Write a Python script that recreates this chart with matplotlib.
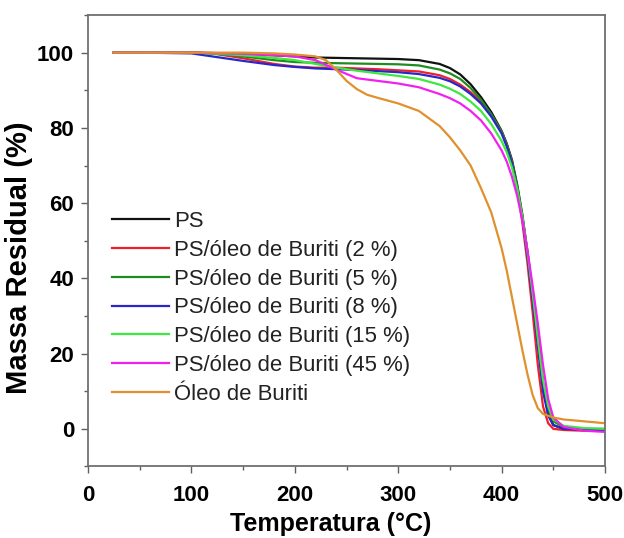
import matplotlib
matplotlib.use("Agg")
import matplotlib.pyplot as plt
from matplotlib.ticker import MultipleLocator

plt.rcParams['font.family'] = ['Liberation Sans', 'DejaVu Sans']

T = [25, 50, 100, 120, 150, 180, 200, 220, 240, 260, 280, 300, 320, 340, 350, 360, 370,
     380, 390, 400, 405, 410, 415, 420, 425, 430, 435, 440, 445, 450, 460, 480, 500]

ps = [100, 100, 100, 99.9, 99.7, 99.3, 99.0, 98.7, 98.6, 98.5, 98.4, 98.3, 98.0, 97.0, 95.9, 94.2, 91.6,
      88.2, 84.2, 79.2, 75.8, 71.5, 65.0, 57.0, 47.0, 36.0, 24.5, 12.0, 4.0, 1.0, 0.0, -0.3, -0.3]
ps2 = [100, 100, 100, 99.8, 98.5, 97.0, 96.3, 96.0, 96.0, 95.8, 95.6, 95.3, 95.0, 94.0, 93.0, 91.5, 89.5,
       87.0, 83.5, 79.0, 75.5, 71.0, 64.0, 55.0, 44.0, 31.0, 17.0, 6.0, 1.5, 0.0, -0.3, -0.5, -0.5]
ps5 = [100, 100, 100, 99.8, 99.0, 98.0, 97.5, 97.3, 97.2, 97.1, 97.0, 96.9, 96.6, 95.5, 94.5, 93.0, 90.6,
       87.5, 83.6, 79.0, 75.5, 71.0, 64.5, 56.5, 47.0, 36.0, 24.0, 12.0, 5.0, 2.0, 0.5, 0.0, 0.0]
ps8 = [100, 100, 99.8, 99.0, 97.8, 96.7, 96.2, 95.8, 95.6, 95.4, 95.1, 94.8, 94.3, 93.3, 92.4, 91.0, 89.0,
       86.5, 83.0, 78.5, 75.0, 70.5, 64.0, 56.0, 46.0, 34.0, 22.0, 10.0, 3.5, 1.0, 0.0, -0.3, -0.3]
ps15 = [100, 100, 100, 99.8, 99.3, 98.6, 98.0, 97.0, 96.0, 95.2, 94.5, 93.8, 93.0, 91.5, 90.4, 89.0, 87.0,
        84.5, 81.0, 76.5, 73.5, 69.5, 64.0, 56.5, 47.0, 36.0, 24.0, 13.0, 6.0, 2.5, 0.8, 0.2, 0.0]
ps45 = [100, 100, 100, 99.9, 99.7, 99.3, 99.0, 98.0, 95.5, 93.2, 92.5, 91.8, 90.8, 89.0, 87.9, 86.5, 84.5,
        82.0, 78.5, 74.0, 71.0, 67.0, 62.0, 55.5, 47.5, 38.0, 28.0, 17.0, 8.0, 3.0, 0.5, -0.5, -0.8]

T_oil = [25, 50, 100, 150, 180, 200, 220, 230, 240, 250, 260, 270, 280, 300, 320, 340, 350, 360,
         370, 380, 390, 400, 405, 410, 415, 420, 425, 430, 435, 440, 450, 460, 480, 500]
oil = [100, 100, 100, 100, 99.8, 99.5, 99.0, 98.0, 95.5, 92.5, 90.3, 88.8, 88.0, 86.5, 84.5, 80.5,
       77.5, 74.0, 70.0, 64.0, 57.5, 48.0, 42.0, 35.0, 28.0, 21.0, 14.5, 9.0, 5.5, 4.0, 3.0, 2.5,
       2.0, 1.5]

labels = ["PS", "PS/óleo de Buriti (2 %)", "PS/óleo de Buriti (5 %)",
          "PS/óleo de Buriti (8 %)", "PS/óleo de Buriti (15 %)",
          "PS/óleo de Buriti (45 %)", "Óleo de Buriti"]
colors = ["#111111", "#f0202a", "#1e8c1e", "#2828c8", "#3ee83e", "#f020f0", "#e0902c"]

fig = plt.figure(figsize=(6.24, 5.38), dpi=100)
ax = fig.add_axes([0.141, 0.1329, 0.9696 - 0.141, 0.9721 - 0.1329])

series = [(T, ps), (T, ps2), (T, ps5), (T, ps8), (T, ps15), (T, ps45), (T_oil, oil)]
for (x, y), lab, c in zip(series, labels, colors):
    ax.plot(x, y, color=c, lw=1.6, label=lab)

ax.set_xlim(0, 500)
ax.set_ylim(-10, 110)
ax.xaxis.set_major_locator(MultipleLocator(100))
ax.xaxis.set_minor_locator(MultipleLocator(50))
ax.yaxis.set_major_locator(MultipleLocator(20))
ax.yaxis.set_minor_locator(MultipleLocator(10))
ax.set_yticks([0, 20, 40, 60, 80, 100])

for s in ax.spines.values():
    s.set_color("#707070")
    s.set_linewidth(1.3)
ax.tick_params(which='both', direction='out', color='#606060', width=1.0,
               top=False, right=False)
ax.tick_params(which='major', length=5, labelsize=16)
ax.tick_params(axis='y', which='major', pad=5)
ax.tick_params(axis='x', which='major', pad=8)
ax.tick_params(which='minor', length=3)
for t in ax.get_xticklabels() + ax.get_yticklabels():
    t.set_fontweight('bold')

ax.set_xlabel("Temperatura (°C)", fontsize=18, fontweight='bold')
ax.set_ylabel("Massa Residual (%)", fontsize=21, fontweight='bold')
ax.xaxis.set_label_coords(0.47, -0.1)
ax.yaxis.set_label_coords(-0.106, 0.462)

leg = ax.legend(loc='upper left', bbox_to_anchor=(0.0285, 0.585), frameon=False,
                fontsize=15.9, handlelength=2.6, handletextpad=0.25, labelspacing=0.35,
                borderaxespad=0)
for t in leg.get_texts():
    t.set_color('#222222')

fig.savefig("out.png", dpi=100)
